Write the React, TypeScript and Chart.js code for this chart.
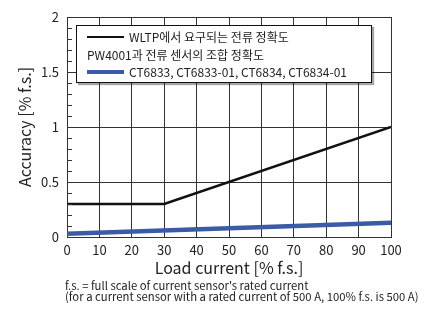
import React, { useEffect, useRef } from "react";
import { Chart, registerables } from "chart.js";

Chart.register(...registerables);

// ---- data ----
const wltpX = [0, 30, 100];
const wltpY = [0.3, 0.3, 1.0];
const ctX = [0, 100];
const ctY = [0.03, 0.13];
const xTicks = [0, 10, 20, 30, 40, 50, 60, 70, 80, 90, 100];
const yMajorTicks = [0, 0.5, 1, 1.5, 2];

const wltpLabel = "WLTP에서 요구되는 전류 정확도";
const ctHeader = "PW4001과 전류 센서의 조합 정확도";
const ctLabel = "CT6833, CT6833-01, CT6834, CT6834-01";
const xTitle = "Load current [% f.s.]";
const yTitle = "Accuracy [% f.s.]";
const note1 = "f.s. = full scale of current sensor's rated current";
const note2 = "(for a current sensor with a rated current of 500 A, 100% f.s. is 500 A)";

const FONT = "'Noto Sans CJK KR', 'Noto Sans', sans-serif";
const WLTP_COLOR = "#111111";
const CT_COLOR = "#3b5ba6";
const GRID = "#333333";

const isMajor = (v: number) => yMajorTicks.some((m) => Math.abs(m - v) < 1e-6);

const minorTicksPlugin = {
  id: "minorTicks",
  afterDatasetsDraw(chart: any) {
    const y = chart.scales.y;
    const { ctx, chartArea } = chart;
    ctx.save();
    ctx.strokeStyle = GRID;
    ctx.lineWidth = 1;
    y.ticks.forEach((t: any) => {
      if (isMajor(t.value)) return;
      const py = Math.round(y.getPixelForValue(t.value)) + 0.5;
      ctx.beginPath();
      ctx.moveTo(chartArea.left, py);
      ctx.lineTo(chartArea.left + 5, py);
      ctx.stroke();
    });
    ctx.restore();
  },
};

export default function App() {
  const ref = useRef<HTMLCanvasElement | null>(null);

  useEffect(() => {
    if (!ref.current) return;
    const chart = new Chart(ref.current, {
      type: "line",
      data: {
        datasets: [
          {
            label: wltpLabel,
            data: wltpX.map((x, i) => ({ x, y: wltpY[i] })),
            borderColor: WLTP_COLOR,
            borderWidth: 2.5,
            pointRadius: 0,
            tension: 0,
          },
          {
            label: ctLabel,
            data: ctX.map((x, i) => ({ x, y: ctY[i] })),
            borderColor: CT_COLOR,
            borderWidth: 4.5,
            pointRadius: 0,
            tension: 0,
          },
        ],
      },
      options: {
        animation: false,
        responsive: false,
        layout: { padding: { left: 0, right: 57, top: 17, bottom: 0 } },
        plugins: { legend: { display: false }, tooltip: { enabled: false } },
        scales: {
          x: {
            type: "linear",
            min: 0,
            max: 100,
            afterBuildTicks: (s: any) => {
              s.ticks = xTicks.map((v) => ({ value: v }));
            },
            afterFit: (s: any) => {
              s.height = 43;
            },
            grid: { color: GRID, drawTicks: false, lineWidth: 1 },
            border: { color: GRID, width: 1 },
            ticks: {
              color: "#222",
              font: { family: FONT, size: 13 },
              padding: 5,
              maxRotation: 0,
              autoSkip: false,
            },
            title: {
              display: true,
              text: xTitle,
              color: "#222",
              font: { family: FONT, size: 16 },
              padding: { top: 0, bottom: 2 },
            },
          },
          y: {
            type: "linear",
            min: 0,
            max: 2,
            afterFit: (s: any) => {
              s.width = 67;
            },
            ticks: {
              stepSize: 0.1,
              autoSkip: false,
              color: "#222",
              font: { family: FONT, size: 13 },
              padding: 8,
              callback: (v: any) => (isMajor(Number(v)) ? String(Math.round(Number(v) * 10) / 10) : ""),
            },
            grid: {
              drawTicks: false,
              lineWidth: 1,
              color: (c: any) => (c.tick && isMajor(c.tick.value) ? GRID : "rgba(0,0,0,0)"),
            },
            border: { color: GRID, width: 1 },
            title: {
              display: true,
              text: yTitle,
              color: "#222",
              font: { family: FONT, size: 16 },
              padding: { top: 15, bottom: 0 },
            },
          },
        },
      },
      plugins: [minorTicksPlugin],
    });
    return () => chart.destroy();
  }, []);

  const row: React.CSSProperties = {
    display: "flex",
    alignItems: "center",
    height: 17.5,
    whiteSpace: "nowrap",
  };
  const swatch = (color: string, h: number): React.CSSProperties => ({
    width: 37,
    height: h,
    background: color,
    marginRight: 5,
    flex: "none",
  });

  return (
    <div style={{ position: "fixed", left: 0, top: 0, width: 448, height: 309, background: "#fff", fontFamily: FONT }}>
      <canvas ref={ref} width={448} height={280} style={{ position: "absolute", left: 0, top: 0 }} />
      <div
        style={{
          position: "absolute",
          left: 76,
          top: 25,
          width: 296,
          height: 58,
          boxSizing: "border-box",
          border: "1.5px solid #111",
          background: "#fff",
          boxShadow: "2px 2px 1px rgba(0,0,0,0.35)",
          padding: "2px 0 0 10px",
          fontSize: 12,
          color: "#222",
        }}
      >
        <div style={row}>
          <span style={swatch(WLTP_COLOR, 2.5)} />
          <span>{wltpLabel}</span>
        </div>
        <div style={row}>
          <span>{ctHeader}</span>
        </div>
        <div style={row}>
          <span style={swatch(CT_COLOR, 4.5)} />
          <span>{ctLabel}</span>
        </div>
      </div>
      <div
        style={{
          position: "absolute",
          left: 65,
          top: 280,
          fontSize: 11.3,
          lineHeight: "11px",
          color: "#222",
          whiteSpace: "nowrap",
        }}
      >
        <div>{note1}</div>
        <div>{note2}</div>
      </div>
    </div>
  );
}
